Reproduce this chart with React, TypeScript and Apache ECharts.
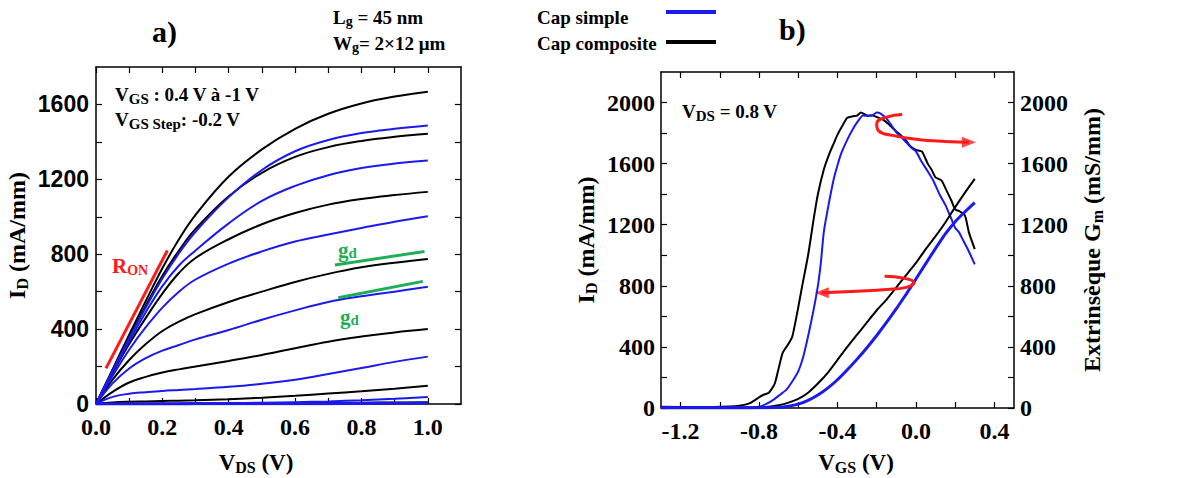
import React, { useEffect, useRef } from "react";
import * as echarts from "echarts";

// ---------- Panel a) : output characteristics ----------
const vds = [0, 0.05, 0.1, 0.15, 0.2, 0.25, 0.3, 0.4, 0.5, 0.6, 0.7, 0.8, 0.9, 1.0];
// composite cap (black), VGS from 0.4 V downwards
const idComp1 = [0, 185, 370, 550, 725, 880, 1010, 1215, 1360, 1470, 1550, 1605, 1642, 1668];
const idComp2 = [0, 180, 355, 525, 685, 820, 935, 1110, 1235, 1320, 1372, 1405, 1427, 1443];
const idComp3 = [0, 165, 320, 460, 590, 700, 780, 880, 960, 1020, 1065, 1095, 1116, 1133];
const idComp4 = [0, 130, 235, 320, 390, 440, 480, 545, 600, 652, 695, 730, 755, 775];
const idComp5 = [0, 65, 115, 145, 168, 185, 200, 230, 262, 298, 333, 360, 382, 400];
const idComp6 = [0, 8, 12, 14, 16, 18, 20, 26, 34, 44, 56, 68, 82, 98];
const idComp7 = [0, 1, 1, 2, 2, 2, 3, 3, 4, 5, 6, 7, 8, 10];
// simple cap (blue)
const idSimp1 = [0, 178, 350, 515, 670, 805, 920, 1105, 1250, 1350, 1410, 1447, 1470, 1488];
const idSimp2 = [0, 170, 335, 490, 630, 740, 820, 965, 1085, 1165, 1222, 1260, 1284, 1300];
const idSimp3 = [0, 150, 290, 410, 515, 600, 665, 750, 815, 868, 905, 940, 974, 1003];
const idSimp4 = [0, 110, 190, 245, 285, 315, 345, 395, 450, 500, 545, 575, 600, 626];
const idSimp5 = [0, 38, 55, 63, 70, 75, 80, 92, 108, 130, 160, 192, 225, 253];
const idSimp6 = [0, 1, 2, 2, 3, 3, 4, 5, 7, 10, 14, 20, 28, 38];
const idSimp7 = [0, 0, 0, 0, 0, 0, 1, 1, 1, 2, 2, 3, 4, 5];

// annotation segments (data coordinates)
const ronX = [0.03, 0.215];
const ronY = [190, 820];
const gd1X = [0.72, 0.99];
const gd1Y = [742, 815];
const gd2X = [0.73, 0.985];
const gd2Y = [568, 655];

const aXTicks = [0, 0.1, 0.2, 0.3, 0.4, 0.5, 0.6, 0.7, 0.8, 0.9, 1.0];
const aXLabels = [0, 0.2, 0.4, 0.6, 0.8, 1.0];
const aYTicks = [0, 200, 400, 600, 800, 1000, 1200, 1400, 1600];
const aYLabels = [0, 400, 800, 1200, 1600];

// ---------- Panel b) : transfer characteristics ----------
const vgsGmComp = [-1.3, -1.1, -0.95, -0.9, -0.85, -0.8, -0.78, -0.75, -0.72, -0.7, -0.68, -0.65, -0.63, -0.6, -0.58, -0.55, -0.52, -0.5, -0.47, -0.44, -0.42, -0.4, -0.37, -0.35, -0.32, -0.3, -0.28, -0.25, -0.22, -0.2, -0.17, -0.14, -0.1, -0.08, -0.05, -0.03, 0.0, 0.03, 0.06, 0.08, 0.1, 0.13, 0.15, 0.18, 0.2, 0.22, 0.25, 0.27, 0.3];
const gmComp = [8, 6, 10, 15, 30, 70, 85, 100, 160, 260, 360, 420, 470, 660, 800, 1000, 1250, 1400, 1560, 1670, 1730, 1790, 1860, 1900, 1910, 1915, 1935, 1915, 1915, 1905, 1890, 1860, 1810, 1790, 1750, 1715, 1690, 1680, 1600, 1560, 1510, 1490, 1440, 1360, 1300, 1290, 1260, 1150, 1040];
const vgsGmSimp = [-1.3, -1.0, -0.85, -0.8, -0.76, -0.72, -0.69, -0.66, -0.63, -0.6, -0.575, -0.55, -0.525, -0.5, -0.485, -0.47, -0.45, -0.42, -0.4, -0.38, -0.35, -0.32, -0.3, -0.27, -0.24, -0.22, -0.2, -0.18, -0.15, -0.13, -0.1, -0.08, -0.05, -0.02, 0.0, 0.03, 0.06, 0.09, 0.12, 0.15, 0.18, 0.2, 0.22, 0.24, 0.27, 0.3];
const gmSimp = [5, 5, 5, 8, 28, 60, 90, 120, 175, 240, 334, 470, 623, 800, 950, 1150, 1300, 1495, 1590, 1670, 1757, 1830, 1870, 1915, 1912, 1918, 1935, 1928, 1895, 1860, 1805, 1780, 1740, 1700, 1680, 1610, 1550, 1485, 1400, 1330, 1240, 1180, 1150, 1100, 1025, 940];
const vgsIdComp = [-1.3, -1.0, -0.9, -0.8, -0.75, -0.7, -0.65, -0.6, -0.55, -0.5, -0.45, -0.4, -0.35, -0.3, -0.25, -0.2, -0.15, -0.1, -0.05, 0.0, 0.05, 0.1, 0.15, 0.2, 0.25, 0.3];
const idTransComp = [0, 0, 1, 3, 8, 18, 35, 60, 100, 160, 230, 315, 400, 480, 560, 640, 710, 790, 870, 950, 1040, 1125, 1215, 1315, 1410, 1500];
const vgsIdSimp = [-1.3, -1.0, -0.9, -0.8, -0.7, -0.65, -0.6, -0.55, -0.5, -0.45, -0.4, -0.35, -0.3, -0.25, -0.2, -0.15, -0.1, -0.05, 0.0, 0.05, 0.1, 0.15, 0.2, 0.25, 0.3];
const idTransSimp = [0, 0, 0, 1, 5, 12, 25, 50, 85, 130, 185, 250, 320, 395, 475, 560, 650, 745, 845, 945, 1045, 1140, 1220, 1285, 1345];

// curved red arrows (data coordinates)
const arrowGmX = [-0.07, -0.15, -0.2, -0.19, -0.12, 0.0, 0.15, 0.27];
const arrowGmY = [1922, 1905, 1860, 1815, 1785, 1760, 1745, 1740];
const arrowIdX = [-0.16, -0.06, -0.01, -0.05, -0.15, -0.3, -0.48];
const arrowIdY = [862, 850, 820, 790, 776, 765, 755];

const bXTicks = [-1.2, -1.0, -0.8, -0.6, -0.4, -0.2, 0.0, 0.2, 0.4];
const bXLabels = [-1.2, -0.8, -0.4, 0.0, 0.4];
const bYTicks = [0, 200, 400, 600, 800, 1000, 1200, 1400, 1600, 1800, 2000];
const bYLabels = [0, 400, 800, 1200, 1600, 2000];

const SERIF = '"Liberation Serif", "Times New Roman", serif';
const SANS = '"Liberation Sans", Arial, sans-serif';
const BLUE = "#1a1aee";
const BLACK = "#000000";
const RED = "#ff1a1a";
const GREEN = "#1fae55";

const zip = (xs: number[], ys: number[]) => xs.map((x, i) => [x, ys[i]]);

export default function App() {
  const ref = useRef<HTMLDivElement>(null);
  useEffect(() => {
    if (!ref.current) return;
    const chart = echarts.init(ref.current, null, { renderer: "svg" });

    const axisLine = { show: true, onZero: false, lineStyle: { color: "#000", width: 1.5 } };
    const nameStyle = {
      fontFamily: SERIF,
      fontWeight: "bold" as const,
      fontSize: 24,
      color: "#000",
      rich: {
        s: { fontFamily: SERIF, fontWeight: "bold" as const, fontSize: 16, padding: [11, 0, 0, 0], color: "#000" },
      },
    };

    const xAxisBase = (grid: number, min: number, max: number, ticks: number[], labels: number[], pos: "bottom" | "top", show: boolean) => ({
      type: "value" as const,
      gridIndex: grid,
      min,
      max,
      position: pos,
      axisLine,
      splitLine: { show: false },
      axisTick: { show: true, inside: true, length: 6, customValues: ticks, lineStyle: { color: "#000", width: 1.2 } },
      axisLabel: {
        show,
        customValues: labels,
        margin: 11,
        fontFamily: SERIF,
        fontWeight: "bold" as const,
        fontSize: 24,
        color: "#000",
        formatter: (v: number) => v.toFixed(1),
      },
    });

    const yAxisBase = (grid: number, max: number, ticks: number[], labels: number[], pos: "left" | "right", show: boolean, font: string, size: number, margin: number, name?: string, gap?: number) => ({
      type: "value" as const,
      gridIndex: grid,
      min: 0,
      max,
      position: pos,
      axisLine,
      splitLine: { show: false },
      axisTick: { show: true, inside: true, length: 6, customValues: ticks, lineStyle: { color: "#000", width: 1.2 } },
      axisLabel: {
        show,
        customValues: labels,
        margin,
        fontFamily: font,
        fontWeight: "bold" as const,
        fontSize: size,
        color: "#000",
        formatter: (v: number) => String(v),
      },
      name: name || "",
      nameLocation: "middle" as const,
      nameRotate: 90,
      nameGap: gap || 60,
      nameTextStyle: nameStyle,
    });

    const curve = (data: number[], color: string, w = 2) => ({
      type: "line" as const,
      xAxisIndex: 0,
      yAxisIndex: 0,
      data: zip(vds, data),
      smooth: 0.4,
      showSymbol: false,
      lineStyle: { color, width: w },
      silent: true,
    });
    const seg = (xs: number[], ys: number[], color: string, xi: number, yi: number) => ({
      type: "line" as const,
      xAxisIndex: xi,
      yAxisIndex: yi,
      data: zip(xs, ys),
      showSymbol: false,
      lineStyle: { color, width: 3 },
      silent: true,
    });
    const bLine = (xs: number[], ys: number[], color: string, yi: number, w = 2) => ({
      type: "line" as const,
      xAxisIndex: 2,
      yAxisIndex: yi,
      data: zip(xs, ys),
      showSymbol: false,
      smooth: 0.2,
      lineStyle: { color, width: w },
      silent: true,
    });

    const txt = (x: number, y: number, text: string, size: number, color = "#000", subSize = 13, subPad = 9, align: "left" | "center" = "left") => ({
      type: "text" as const,
      x,
      y,
      style: {
        text,
        fill: color,
        font: `bold ${size}px ${SERIF}`,
        align,
        verticalAlign: "middle" as const,
        rich: {
          m: { fontFamily: SERIF, fontWeight: "bold" as const, fontSize: size, fill: color, color },
          s: { fontFamily: SERIF, fontWeight: "bold" as const, fontSize: subSize, padding: [subPad, 0, 0, 0], fill: color, color },
        },
      },
    });

    chart.setOption({
      animation: false,
      backgroundColor: "#ffffff",
      grid: [
        { left: 96, top: 67, width: 365, height: 337 },
        { left: 661, top: 72, width: 353, height: 336 },
      ],
      xAxis: [
        xAxisBase(0, 0, 1.1, aXTicks, aXLabels, "bottom", true),
        xAxisBase(0, 0, 1.1, aXTicks, aXLabels, "top", false),
        xAxisBase(1, -1.3, 0.5, bXTicks, bXLabels, "bottom", true),
        xAxisBase(1, -1.3, 0.5, bXTicks, bXLabels, "top", false),
      ],
      yAxis: [
        yAxisBase(0, 1800, aYTicks, aYLabels, "left", true, SANS, 23, 7, "I{s|D} (mA/mm)", 66),
        yAxisBase(0, 1800, aYTicks, aYLabels, "right", false, SANS, 23, 7),
        yAxisBase(1, 2200, bYTicks, bYLabels, "left", true, SERIF, 24, 6, "I{s|D} (mA/mm)", 62),
        yAxisBase(1, 2200, bYTicks, bYLabels, "right", true, SERIF, 24, 6, "Extrinsèque G{s|m} (mS/mm)", 64),
      ],
      series: [
        curve(idComp7, BLACK),
        curve(idComp6, BLACK),
        curve(idComp5, BLACK),
        curve(idComp4, BLACK),
        curve(idComp3, BLACK),
        curve(idComp2, BLACK),
        curve(idComp1, BLACK),
        curve(idSimp7, BLUE, 3),
        curve(idSimp6, BLUE),
        curve(idSimp5, BLUE),
        curve(idSimp4, BLUE),
        curve(idSimp3, BLUE),
        curve(idSimp2, BLUE),
        curve(idSimp1, BLUE),
        seg(ronX, ronY, RED, 0, 0),
        seg(gd1X, gd1Y, GREEN, 0, 0),
        seg(gd2X, gd2Y, GREEN, 0, 0),
        bLine(vgsGmComp, gmComp, BLACK, 3, 2),
        bLine(vgsGmSimp, gmSimp, BLUE, 3, 2),
        bLine(vgsIdComp, idTransComp, BLACK, 2, 2),
        bLine(vgsIdSimp, idTransSimp, BLUE, 2, 3),
        {
          type: "line",
          xAxisIndex: 2,
          yAxisIndex: 3,
          data: zip(arrowGmX, arrowGmY),
          smooth: 0.5,
          showSymbol: false,
          lineStyle: { color: RED, width: 3 },
          silent: true,
        },
        {
          type: "line",
          xAxisIndex: 2,
          yAxisIndex: 2,
          data: zip(arrowIdX, arrowIdY),
          smooth: 0.5,
          showSymbol: false,
          lineStyle: { color: RED, width: 3 },
          silent: true,
        },
        {
          type: "scatter",
          xAxisIndex: 2,
          yAxisIndex: 3,
          data: [[arrowGmX[arrowGmX.length - 1], arrowGmY[arrowGmY.length - 1]]],
          symbol: "triangle",
          symbolSize: [11, 14],
          symbolRotate: -90,
          itemStyle: { color: RED },
          silent: true,
        },
        {
          type: "scatter",
          xAxisIndex: 2,
          yAxisIndex: 2,
          data: [[arrowIdX[arrowIdX.length - 1], arrowIdY[arrowIdY.length - 1]]],
          symbol: "triangle",
          symbolSize: [11, 14],
          symbolRotate: 90,
          itemStyle: { color: RED },
          silent: true,
        },
      ],
      graphic: [
        txt(152, 31, "{m|a)}", 30),
        txt(779, 29, "{m|b)}", 30),
        txt(333, 17, "{m|L}{s|g}{m| = 45 nm}", 19, "#000", 14, 8),
        txt(333, 43, "{m|W}{s|g}{m|= 2×12 μm}", 19, "#000", 14, 8),
        txt(537, 17, "{m|Cap simple}", 19),
        txt(537, 43, "{m|Cap composite}", 19),
        { type: "line", shape: { x1: 666, y1: 12, x2: 716, y2: 12 }, style: { stroke: BLUE, lineWidth: 4 } },
        { type: "line", shape: { x1: 666, y1: 42, x2: 716, y2: 42 }, style: { stroke: BLACK, lineWidth: 4 } },
        txt(115, 94, "{m|V}{s|GS}{m| : 0.4 V à -1 V}", 19, "#000", 15, 9),
        txt(115, 119, "{m|V}{s|GS Step}{m|: -0.2 V}", 19, "#000", 15, 9),
        txt(682, 111, "{m|V}{s|DS}{m| = 0.8 V}", 19, "#000", 15, 9),
        txt(112, 266, "{m|R}{s|ON}", 21, RED, 14, 9),
        txt(338, 250, "{m|g}{s|d}", 21, GREEN, 15, 6),
        txt(340, 317, "{m|g}{s|d}", 21, GREEN, 15, 6),
        txt(256, 462, "{m|V}{s|DS}{m| (V)}", 23, "#000", 16, 11, "center"),
        txt(856, 462, "{m|V}{s|GS}{m| (V)}", 23, "#000", 16, 11, "center"),
      ],
    });
    return () => chart.dispose();
  }, []);
  return (
    <div
      ref={ref}
      style={{ position: "fixed", left: 0, top: 0, width: 1193, height: 478, background: "#fff" }}
    />
  );
}
